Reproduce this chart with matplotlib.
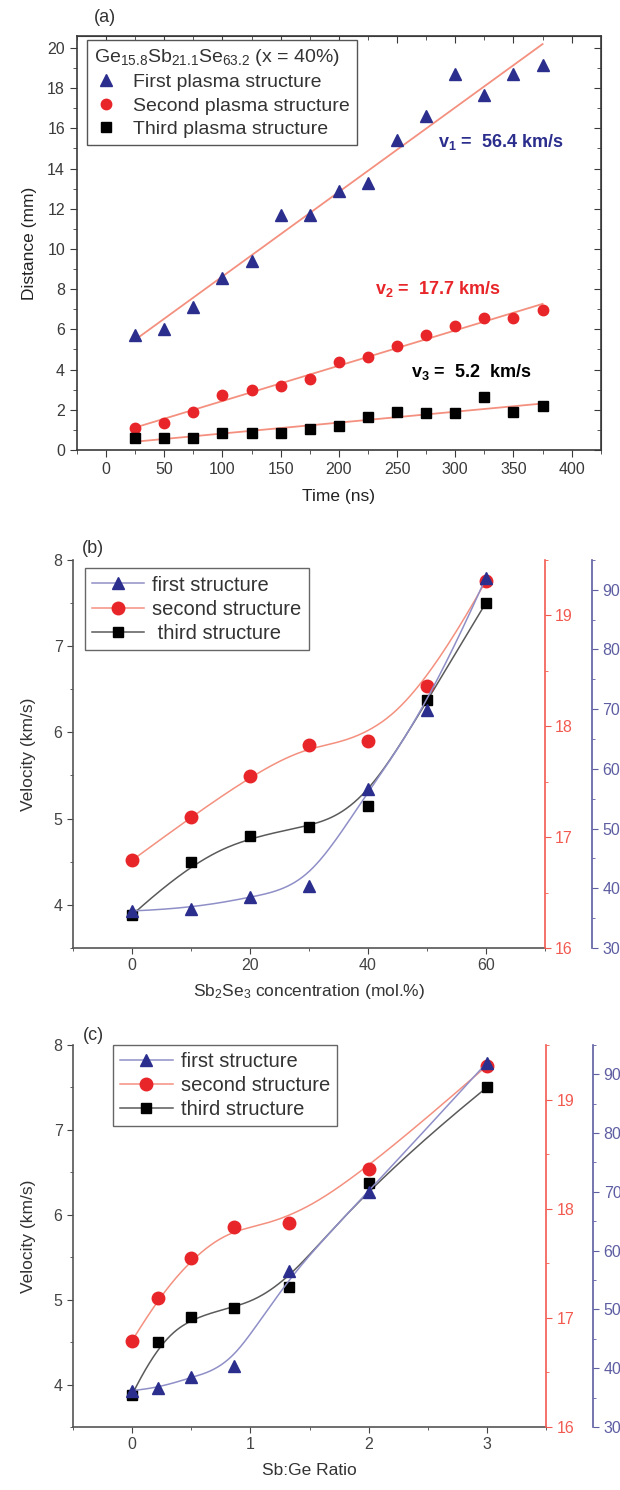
import numpy as np
import matplotlib
matplotlib.use("Agg")
import matplotlib.pyplot as plt
from matplotlib.ticker import MultipleLocator
from matplotlib.lines import Line2D

plt.rcParams['font.family'] = ['Liberation Sans', 'DejaVu Sans']
plt.rcParams['mathtext.fontset'] = 'custom'
plt.rcParams['mathtext.rm'] = 'Liberation Sans'
plt.rcParams['mathtext.it'] = 'Liberation Sans:italic'
plt.rcParams['mathtext.bf'] = 'Liberation Sans:bold'

# ---- panel (a): plume front position vs time ----
time_ns = [25, 50, 75, 100, 125, 150, 175, 200, 225, 250, 275, 300, 325, 350, 375]
first_mm = [5.7, 6.0, 7.1, 8.55, 9.4, 11.7, 11.7, 12.9, 13.3, 15.4, 16.6, 18.7, 17.65, 18.7, 19.15]
second_mm = [1.08, 1.33, 1.87, 2.72, 2.97, 3.2, 3.53, 4.4, 4.65, 5.15, 5.73, 6.17, 6.58, 6.55, 6.95]
third_mm = [0.62, 0.62, 0.62, 0.83, 0.83, 0.83, 1.05, 1.2, 1.62, 1.9, 1.82, 1.82, 2.62, 1.87, 2.17]
speed_labels = ["v$_\\mathbf{1}$ =  56.4 km/s", "v$_\\mathbf{2}$ =  17.7 km/s", "v$_\\mathbf{3}$ =  5.2  km/s"]

# ---- panels (b), (c): velocities vs composition ----
sb2se3_conc = [0, 10, 20, 30, 40, 50, 60]
sb_ge_ratio = [0, 0.22, 0.5, 0.86, 1.33, 2.0, 3.0]
v_first = [36.2, 36.6, 38.5, 40.4, 56.6, 69.9, 92.0]       # right (blue) axis
v_second = [16.79, 17.18, 17.55, 17.83, 17.87, 18.36, 19.31]  # right (red) axis
v_third = [3.88, 4.50, 4.80, 4.90, 5.15, 6.37, 7.50]      # left axis
legend_b = ["first structure", "second structure", " third structure"]
legend_c = ["first structure", "second structure", "third structure"]

NAVY = '#2b2e8c'
RED = '#e8262a'
FIT = '#f4907f'
RED_AX = '#f25a50'
BLUE_AX = '#5e5ea2'
SPINE = '#3a3a3a'


def bspline(xs, ys, n=200):
    # clamped uniform cubic B-spline using the points as control points
    P = np.column_stack([xs, ys]).astype(float)
    k = 3
    m = len(P)
    knots = np.concatenate([np.zeros(k), np.arange(m - k + 1), np.full(k, m - k)]).astype(float)
    t = np.linspace(0, m - k, n)
    t[-1] -= 1e-9
    B = np.zeros((n, len(knots) - 1))
    for i in range(len(knots) - 1):
        B[:, i] = (knots[i] <= t) & (t < knots[i + 1])
    for d in range(1, k + 1):
        Bn = np.zeros((n, len(knots) - 1 - d))
        for i in range(len(knots) - 1 - d):
            a = knots[i + d] - knots[i]
            b = knots[i + d + 1] - knots[i + 1]
            term = 0
            if a > 0:
                term = term + (t - knots[i]) / a * B[:, i]
            if b > 0:
                term = term + (knots[i + d + 1] - t) / b * B[:, i + 1]
            Bn[:, i] = term
        B = Bn
    C = B @ P
    return C[:, 0], C[:, 1]


fig = plt.figure(figsize=(6.2, 14.9), dpi=100)

# ================= (a) =================
ax = fig.add_axes([0.124, 0.698, 0.845, 0.2779])
ax.plot(time_ns, first_mm, '^', color=NAVY, ms=9, ls='none', label='First plasma structure')
ax.plot(time_ns, second_mm, 'o', color=RED, ms=7.5, ls='none', label='Second plasma structure')
ax.plot(time_ns, third_mm, 's', color='black', ms=6.5, ls='none', label='Third plasma structure')
xs = np.array([time_ns[0], time_ns[-1]])
for ys in (first_mm, second_mm, third_mm):
    c = np.polyfit(time_ns, ys, 1)
    ax.plot(xs, np.polyval(c, xs), color=FIT, lw=1.3, zorder=1)

ax.text(285, 15.3, speed_labels[0], color=NAVY, fontsize=13, fontweight='bold', va='center')
ax.text(231, 8.0, speed_labels[1], color=RED, fontsize=13, fontweight='bold', va='center')
ax.text(262, 3.87, speed_labels[2], color='black', fontsize=13, fontweight='bold', va='center')

ax.set_xlim(-25, 425)
ax.set_ylim(0, 20.6)
ax.xaxis.set_major_locator(MultipleLocator(50))
ax.xaxis.set_minor_locator(MultipleLocator(25))
ax.yaxis.set_major_locator(MultipleLocator(2))
ax.yaxis.set_minor_locator(MultipleLocator(1))
ax.tick_params(which='both', direction='out', labelsize=11.5, colors=SPINE)
ax.tick_params(which='major', length=5)
ax.tick_params(which='minor', length=3)
for s in ax.spines.values():
    s.set_color(SPINE)
    s.set_linewidth(1.2)
top = ax.secondary_xaxis('top')
top.xaxis.set_major_locator(MultipleLocator(50))
top.xaxis.set_minor_locator(MultipleLocator(25))
top.tick_params(which='both', direction='in', labeltop=False, colors=SPINE)
top.tick_params(which='major', length=5)
top.tick_params(which='minor', length=3)
top.spines['top'].set_color(SPINE)
right = ax.secondary_yaxis('right')
right.yaxis.set_major_locator(MultipleLocator(2))
right.yaxis.set_minor_locator(MultipleLocator(1))
right.tick_params(which='both', direction='in', labelright=False, colors=SPINE)
right.tick_params(which='major', length=5)
right.tick_params(which='minor', length=3)
right.spines['right'].set_color(SPINE)

ax.set_xlabel('Time (ns)', fontsize=12.5, color='#222', va='center')
ax.xaxis.set_label_coords(0.5, -0.113)
ax.set_ylabel('Distance (mm)', fontsize=12.5, color='#222', va='center')
ax.yaxis.set_label_coords(-0.09, 0.5)

leg = ax.legend(loc='upper left', bbox_to_anchor=(0.02, 0.99), fontsize=14,
                title='Ge$_{15.8}$Sb$_{21.1}$Se$_{63.2}$ (x = 40%)', title_fontsize=14,
                frameon=True, fancybox=False, edgecolor='#555', framealpha=1,
                handlelength=1.2, handletextpad=0.8, labelspacing=0.3,
                borderpad=0.35, borderaxespad=0, alignment='left')
leg.get_frame().set_linewidth(1.0)
for t in leg.get_texts():
    t.set_color('#333')
leg.get_title().set_color('#333')
fig.text(105 / 620, 1 - 18 / 1490, '(a)', fontsize=13, color='#333', ha='center', va='center')


# ================= (b) & (c) =================
def velocity_panel(rect, xvals, xlim, xmajor, xminor, xlabel, labels, tag, tag_y, legend_anchor):
    ax = fig.add_axes(rect)
    axr = ax.twinx()
    axb = ax.twinx()
    axb.spines['right'].set_position(('outward', 34))

    bx, by = bspline(xvals, v_third)
    ax.plot(bx, by, color='#5a5a5a', lw=1.1, zorder=2)
    ax.plot(xvals, v_third, 's', color='black', ms=7.5, ls='none', zorder=3)
    rx, ry = bspline(xvals, v_second)
    axr.plot(rx, ry, color=FIT, lw=1.1, zorder=2)
    axr.plot(xvals, v_second, 'o', color=RED, ms=9, ls='none', zorder=3)
    fx, fy = bspline(xvals, v_first)
    axb.plot(fx, fy, color='#8f8fc8', lw=1.1, zorder=2)
    axb.plot(xvals, v_first, '^', color=NAVY, ms=9, ls='none', zorder=3)

    ax.set_xlim(*xlim)
    ax.set_ylim(3.5, 8)
    axr.set_ylim(16, 19.5)
    axb.set_ylim(30, 95)

    ax.xaxis.set_major_locator(MultipleLocator(xmajor))
    ax.xaxis.set_minor_locator(MultipleLocator(xminor))
    ax.yaxis.set_major_locator(MultipleLocator(1))
    ax.yaxis.set_minor_locator(MultipleLocator(0.5))
    axr.yaxis.set_major_locator(MultipleLocator(1))
    axr.yaxis.set_minor_locator(MultipleLocator(0.5))
    axb.yaxis.set_major_locator(MultipleLocator(10))
    axb.yaxis.set_minor_locator(MultipleLocator(5))

    for a in (ax, axr, axb):
        a.spines['top'].set_visible(False)
    ax.spines['right'].set_visible(False)
    axr.spines['left'].set_visible(False)
    axb.spines['left'].set_visible(False)
    axr.spines['bottom'].set_visible(False)
    axb.spines['bottom'].set_visible(False)
    for s in ('left', 'bottom'):
        ax.spines[s].set_color('#555')
        ax.spines[s].set_linewidth(1.2)
    axr.spines['right'].set_color(RED_AX)
    axr.spines['right'].set_linewidth(1.2)
    axb.spines['right'].set_color(BLUE_AX)
    axb.spines['right'].set_linewidth(1.2)

    ax.tick_params(which='both', direction='out', labelsize=11.5, colors='#444')
    axr.tick_params(which='both', direction='out', labelsize=11.5, colors=RED_AX)
    axb.tick_params(which='both', direction='out', labelsize=11.5, colors=BLUE_AX)
    for a in (ax, axr, axb):
        a.tick_params(which='major', length=4)
        a.tick_params(which='minor', length=2.5)

    ax.set_xlabel(xlabel, fontsize=12.5, color='#333', va='center')
    ax.xaxis.set_label_coords(0.5, -0.113)
    ax.set_ylabel('Velocity (km/s)', fontsize=12.5, color='#333', va='center')
    ax.yaxis.set_label_coords(-0.095, 0.5)

    handles = [
        Line2D([], [], color='#8f8fc8', lw=1.1, marker='^', ms=9, mfc=NAVY, mec=NAVY),
        Line2D([], [], color=FIT, lw=1.1, marker='o', ms=9, mfc=RED, mec=RED),
        Line2D([], [], color='#5a5a5a', lw=1.1, marker='s', ms=7.5, mfc='black', mec='black'),
    ]
    leg = axb.legend(handles, labels, loc='upper left', bbox_to_anchor=legend_anchor,
                     fontsize=14.5, frameon=True, fancybox=False, edgecolor='#666',
                     framealpha=1, handlelength=2.6, handletextpad=0.4,
                     labelspacing=0.25, borderpad=0.35, borderaxespad=0)
    leg.get_frame().set_linewidth(1.0)
    for t in leg.get_texts():
        t.set_color('#333')
    fig.text(93 / 620, 1 - tag_y / 1490, tag, fontsize=13, color='#333', ha='center', va='center')


velocity_panel([0.1177, 0.3638, 0.761, 0.2604], sb2se3_conc, (-10, 70), 20, 10,
               'Sb$_2$Se$_3$ concentration (mol.%)', legend_b, '(b)', 548, (0.025, 0.978))
velocity_panel([0.1177, 0.0423, 0.763, 0.2564], sb_ge_ratio, (-0.5, 3.5), 1, 0.5,
               'Sb:Ge Ratio', legend_c, '(c)', 1035, (0.085, 1.0))

fig.savefig('out.png', dpi=100)
